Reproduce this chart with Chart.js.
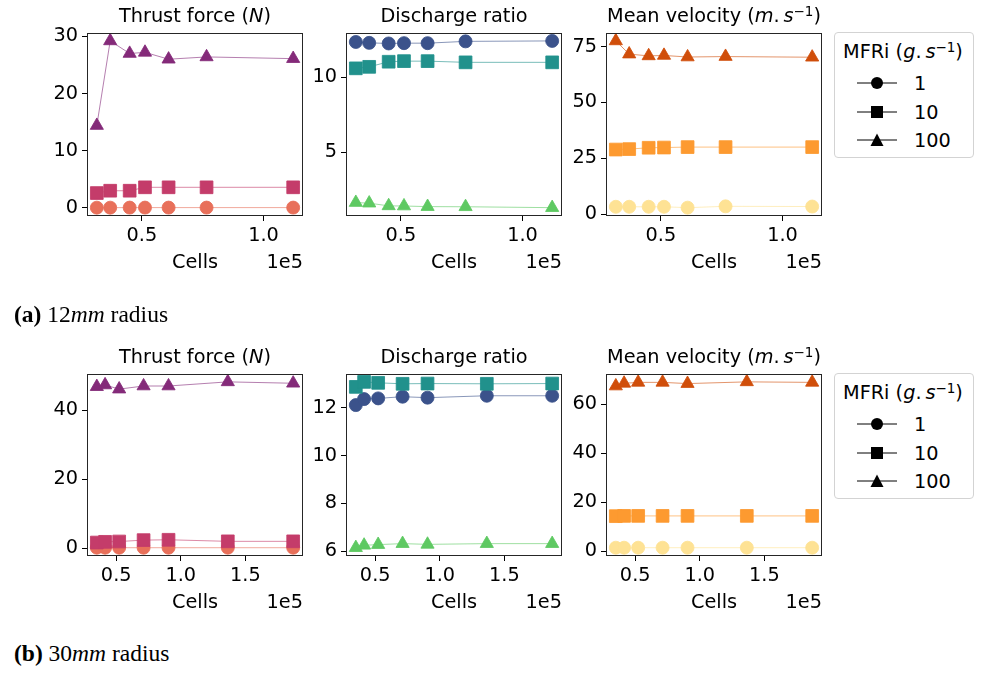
<!DOCTYPE html>
<html><head><meta charset="utf-8">
<script src="https://cdn.jsdelivr.net/npm/chart.js@4"></script>
<style>
body{margin:0;background:#fff;width:987px;height:675px;position:relative;overflow:hidden;font-family:"DejaVu Sans",sans-serif;color:#000;}
.abs{position:absolute;white-space:nowrap;line-height:1;}
.mt{font-size:19.3px;}
.ctr{transform:translateX(-50%);}
.rgt{transform:translateX(-100%);}
sup{font-size:70%;vertical-align:0.45em;line-height:0;}
.cap{font-family:"Liberation Serif","Times New Roman",serif;font-size:23.5px;}
.leg{border:1px solid #d3d3d3;border-radius:4px;background:#fff;box-sizing:border-box;}
</style></head>
<body>
<script>
// ---- data ----
const cellsA = [31500, 37000, 45000, 51300, 61000, 76600, 112200];
const cellsB = [35000, 41400, 52300, 71200, 90500, 136400, 187000];
const mfriLabels = ['1', '10', '100'];

const thrustA_1   = [0.04, 0.04, 0.05, 0.05, 0.05, 0.05, 0.05];
const thrustA_10  = [2.6, 3.0, 3.0, 3.6, 3.6, 3.6, 3.6];
const thrustA_100 = [14.4, 29.2, 27.0, 27.2, 26.0, 26.4, 26.1];

const dischA_1   = [12.36, 12.30, 12.26, 12.28, 12.28, 12.40, 12.43];
const dischA_10  = [10.60, 10.70, 11.04, 11.08, 11.08, 11.00, 11.00];
const dischA_100 = [1.64, 1.60, 1.42, 1.41, 1.37, 1.36, 1.30];

const velA_1   = [3.3, 3.3, 3.3, 3.3, 2.9, 3.5, 3.4];
const velA_10  = [28.9, 29.1, 29.7, 29.8, 30.0, 30.0, 30.0];
const velA_100 = [77.5, 71.6, 70.8, 71.0, 70.3, 70.5, 70.2];

const thrustB_1   = [0.1, 0.1, 0.1, 0.1, 0.1, 0.1, 0.1];
const thrustB_10  = [1.6, 1.8, 1.9, 2.3, 2.4, 1.95, 1.95];
const thrustB_100 = [46.8, 47.3, 46.1, 47.0, 47.0, 48.2, 47.8];

const dischB_1   = [12.11, 12.36, 12.39, 12.46, 12.42, 12.50, 12.50];
const dischB_10  = [12.87, 13.08, 13.04, 13.00, 13.01, 13.00, 13.01];
const dischB_100 = [6.15, 6.25, 6.28, 6.32, 6.29, 6.32, 6.32];

const velB_1   = [1.4, 1.4, 1.4, 1.4, 1.4, 1.4, 1.4];
const velB_10  = [14.3, 14.4, 14.4, 14.4, 14.4, 14.4, 14.4];
const velB_100 = [67.5, 68.6, 69.0, 69.0, 68.5, 69.2, 69.0];

const xTicksA = [50000, 100000];
const xTicksB = [50000, 100000, 150000];
const yTicksThrustA = [0, 10, 20, 30];
const yTicksDischA  = [5, 10];
const yTicksVelA    = [0, 25, 50, 75];
const yTicksThrustB = [0, 20, 40];
const yTicksDischB  = [6, 8, 10, 12];
const yTicksVelB    = [0, 20, 40, 60];

// ---- styles ----
const thrustColors = ['#e8705a', '#c43c6a', '#842a79'];
const dischColors  = ['#3b528b', '#21918c', '#5ec962'];
const velColors    = ['#fee294', '#fd9a30', '#d04e0a'];
const markerStyles = ['circle', 'rect', 'triangle'];
const markerRadius = [6.5, 9, 7.6];

const PADL = 60, PADT = 15, PADR = 15, PADB = 40;
const FONT = {family: 'DejaVu Sans', size: 19.3};

function hexA(h, a) {
  const n = parseInt(h.slice(1), 16);
  return `rgba(${n >> 16},${(n >> 8) & 255},${n & 255},${a})`;
}
function margins(vals) {
  const mn = Math.min(...vals), mx = Math.max(...vals), d = (mx - mn) * 0.05;
  return [mn - d, mx + d];
}
const framePlugin = {
  id: 'frame',
  afterDraw(chart) {
    const a = chart.chartArea, ctx = chart.ctx;
    ctx.save();
    ctx.strokeStyle = '#262626';
    ctx.lineWidth = 1;
    ctx.strokeRect(Math.round(a.left) + 0.5, Math.round(a.top) + 0.5,
                   Math.round(a.right - a.left) - 1, Math.round(a.bottom - a.top) - 1);
    ctx.restore();
  }
};

function addText(html, cls, left, top) {
  const d = document.createElement('div');
  d.className = 'abs ' + cls;
  d.style.left = left + 'px';
  d.style.top = top + 'px';
  d.innerHTML = html;
  document.body.appendChild(d);
}

function panel(box, xs, seriesList, colors, yTicks, xTicks, title) {
  const c = document.createElement('canvas');
  const W = box.w + PADL + PADR, H = box.h + PADT + PADB;
  c.width = W; c.height = H;
  c.style.cssText = `position:absolute;left:${box.l - PADL}px;top:${box.t - PADT}px;width:${W}px;height:${H}px;`;
  document.body.appendChild(c);
  const [xmin, xmax] = margins(xs);
  const [ymin, ymax] = margins(seriesList.flat());
  const datasets = seriesList.map((ys, i) => ({
    label: mfriLabels[i],
    data: xs.map((x, j) => ({x: x, y: ys[j]})),
    borderColor: hexA(colors[i], 0.6),
    borderWidth: 1,
    backgroundColor: colors[i],
    pointBackgroundColor: colors[i],
    pointBorderColor: hexA(colors[i], 0.85),
    pointBorderWidth: 1,
    pointStyle: markerStyles[i],
    pointRadius: markerRadius[i],
    tension: 0,
    order: 3 - i
  }));
  new Chart(c, {
    type: 'line',
    data: {datasets},
    plugins: [framePlugin],
    options: {
      responsive: false, animation: false, devicePixelRatio: 1,
      layout: {padding: {top: PADT, right: PADR, left: 0, bottom: 0}},
      plugins: {legend: {display: false}, tooltip: {enabled: false}},
      events: [],
      scales: {
        x: {
          type: 'linear', min: xmin, max: xmax,
          afterBuildTicks: s => { s.ticks = xTicks.map(v => ({value: v})); },
          afterFit: s => { s.height = PADB; },
          ticks: {callback: v => (v / 1e5).toFixed(1), font: FONT, color: '#000', padding: 3, maxRotation: 0, autoSkip: false},
          grid: {display: true, drawOnChartArea: false, tickLength: 5, tickColor: '#000', tickWidth: 1},
          border: {display: false}
        },
        y: {
          type: 'linear', min: ymin, max: ymax,
          afterBuildTicks: s => { s.ticks = yTicks.map(v => ({value: v})); },
          afterFit: s => { s.width = PADL; },
          ticks: {callback: v => String(v), font: FONT, color: '#000', padding: 4, autoSkip: false},
          grid: {display: true, drawOnChartArea: false, tickLength: 5, tickColor: '#000', tickWidth: 1},
          border: {display: false}
        }
      }
    }
  });
  addText(title, 'mt ctr', box.l + box.w / 2, box.t - 26);
  addText('Cells', 'mt ctr', box.l + box.w / 2, box.t + box.h + 36);
  addText('1e5', 'mt rgt', box.l + box.w, box.t + box.h + 36);
}

function legend(left, top) {
  const d = document.createElement('div');
  d.className = 'abs leg';
  d.style.cssText = `left:${left}px;top:${top}px;width:140px;height:126px;`;
  document.body.appendChild(d);
  addText('MFRi (<i>g</i>.&#8201;<i>s</i><sup>−1</sup>)', 'mt', left + 9, top + 10);
  const glyphs = [
    '<circle cx="20" cy="8" r="6" fill="#000"/>',
    '<rect x="14" y="2" width="12" height="12" fill="#000"/>',
    '<polygon points="20,1.5 26.5,14 13.5,14" fill="#000"/>'
  ];
  mfriLabels.forEach((lab, i) => {
    const y = top + 51 + i * 28.5;
    const s = document.createElement('div');
    s.className = 'abs';
    s.style.cssText = `left:${left + 23}px;top:${y - 8}px;`;
    s.innerHTML = `<svg width="40" height="16"><line x1="0" y1="8" x2="40" y2="8" stroke="#000" stroke-width="1"/>${glyphs[i]}</svg>`;
    document.body.appendChild(s);
    addText(lab, 'mt', left + 80, y - 9);
  });
}

const rowA = {t: 32, h: 184}, rowB = {t: 373, h: 183};
const cols = [87, 346, 606], PW = 216;
const tThrust = 'Thrust force (<i>N</i>)';
const tDisch = 'Discharge ratio';
const tVel = 'Mean velocity (<i>m</i>.&#8201;<i>s</i><sup>−1</sup>)';

panel({l: cols[0], t: rowA.t, w: PW, h: rowA.h}, cellsA, [thrustA_1, thrustA_10, thrustA_100], thrustColors, yTicksThrustA, xTicksA, tThrust);
panel({l: cols[1], t: rowA.t, w: PW, h: rowA.h}, cellsA, [dischA_1, dischA_10, dischA_100], dischColors, yTicksDischA, xTicksA, tDisch);
panel({l: cols[2], t: rowA.t, w: PW, h: rowA.h}, cellsA, [velA_1, velA_10, velA_100], velColors, yTicksVelA, xTicksA, tVel);
panel({l: cols[0], t: rowB.t, w: PW, h: rowB.h}, cellsB, [thrustB_1, thrustB_10, thrustB_100], thrustColors, yTicksThrustB, xTicksB, tThrust);
panel({l: cols[1], t: rowB.t, w: PW, h: rowB.h}, cellsB, [dischB_1, dischB_10, dischB_100], dischColors, yTicksDischB, xTicksB, tDisch);
panel({l: cols[2], t: rowB.t, w: PW, h: rowB.h}, cellsB, [velB_1, velB_10, velB_100], velColors, yTicksVelB, xTicksB, tVel);

legend(834, 32);
legend(834, 373);

addText('<b>(a)</b> 12<i>mm</i> radius', 'cap', 14, 303);
addText('<b>(b)</b> 30<i>mm</i> radius', 'cap', 14, 642);
</script>
</body></html>
